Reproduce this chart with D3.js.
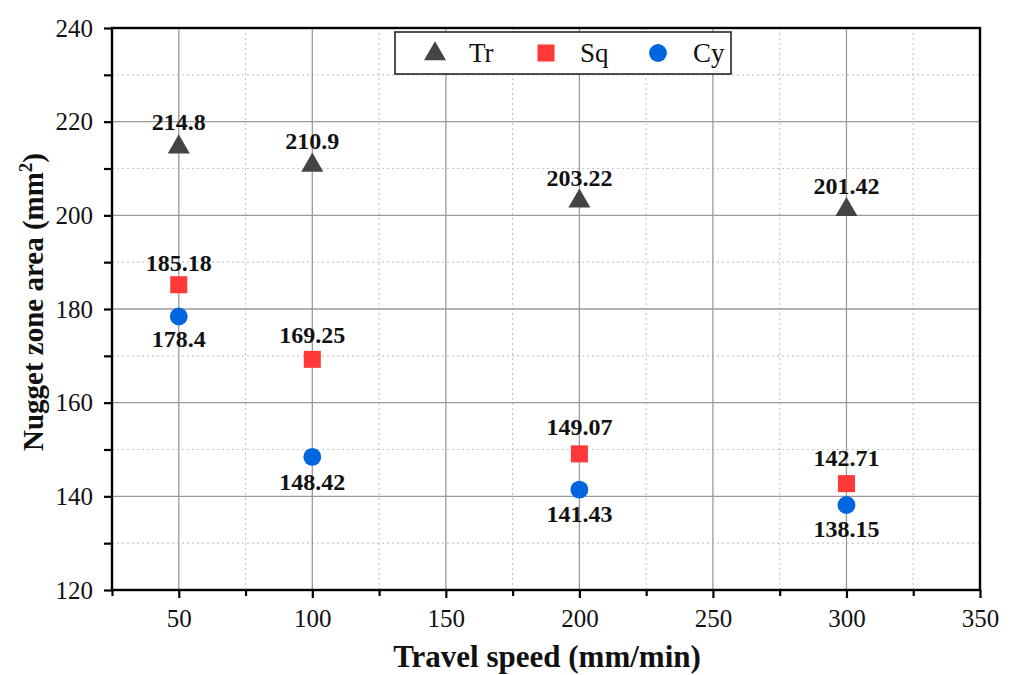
<!DOCTYPE html>
<html>
<head>
<meta charset="utf-8">
<script src="https://cdn.jsdelivr.net/npm/d3@7"></script>
<style>
  html, body { margin: 0; padding: 0; background: #fff; }
  svg { display: block; }
  text { font-family: "Liberation Serif", "DejaVu Serif", serif; fill: #111; }
</style>
</head>
<body>
<svg id="chart" width="1015" height="675"></svg>
<script>
// Travel speed (mm/min)
const speeds = [50, 100, 200, 300];
// Nugget zone area (mm²) per pin profile
const trValues = [214.8, 210.9, 203.22, 201.42];
const sqValues = [185.18, 169.25, 149.07, 142.71];
const cyValues = [178.4, 148.42, 141.43, 138.15];

const seriesNames = ["Tr", "Sq", "Cy"];
const xTicks = [50, 100, 150, 200, 250, 300, 350];
const xMinorTicks = [25, 75, 125, 175, 225, 275, 325];
const yTicks = [120, 140, 160, 180, 200, 220, 240];
const yMinorTicks = [130, 150, 170, 190, 210, 230];

// label placement (px above / below each marker)
const trLabelDy = [-16, -15, -14, -15];
const sqLabelDy = [-14, -16, -19, -18];
const cyLabelDy = [31, 33, 32, 32];

const svg = d3.select("#chart");
const plotL = 112, plotR = 980, plotT = 28, plotB = 590;

const x = d3.scaleLinear().domain([25, 350]).range([plotL, plotR]);
const y = d3.scaleLinear().domain([120, 240]).range([plotB, plotT]);

// grid: minor dotted, major solid
const grid = svg.append("g");
grid.selectAll(".gxm").data(xMinorTicks.filter(d => d > 25)).join("line")
  .attr("x1", d => x(d)).attr("x2", d => x(d)).attr("y1", plotT).attr("y2", plotB)
  .attr("stroke", "#c8c8c8").attr("stroke-width", 1.2).attr("stroke-dasharray", "2,3");
grid.selectAll(".gym").data(yMinorTicks).join("line")
  .attr("y1", d => y(d)).attr("y2", d => y(d)).attr("x1", plotL).attr("x2", plotR)
  .attr("stroke", "#c8c8c8").attr("stroke-width", 1.2).attr("stroke-dasharray", "2,3");
grid.selectAll(".gx").data(xTicks.filter(d => d < 350)).join("line")
  .attr("x1", d => x(d)).attr("x2", d => x(d)).attr("y1", plotT).attr("y2", plotB)
  .attr("stroke", "#9a9a9a").attr("stroke-width", 1.3);
grid.selectAll(".gy").data(yTicks.filter(d => d > 120 && d < 240)).join("line")
  .attr("y1", d => y(d)).attr("y2", d => y(d)).attr("x1", plotL).attr("x2", plotR)
  .attr("stroke", "#9a9a9a").attr("stroke-width", 1.3);

// axes
const xAxis = svg.append("g").attr("transform", `translate(0,${plotB})`)
  .call(d3.axisBottom(x).tickValues(xTicks).tickSize(8).tickPadding(11).tickSizeOuter(0));
const xMinor = svg.append("g").attr("transform", `translate(0,${plotB})`)
  .call(d3.axisBottom(x).tickValues(xMinorTicks).tickSize(6).tickFormat("").tickSizeOuter(0));
const yAxis = svg.append("g").attr("transform", `translate(${plotL},0)`)
  .call(d3.axisLeft(y).tickValues(yTicks).tickSize(8).tickPadding(11).tickSizeOuter(0));
const yMinor = svg.append("g").attr("transform", `translate(${plotL},0)`)
  .call(d3.axisLeft(y).tickValues(yMinorTicks).tickSize(8).tickFormat("").tickSizeOuter(0));

[xAxis, xMinor, yAxis, yMinor].forEach(g => {
  g.select(".domain").remove();
  g.selectAll(".tick line").attr("stroke", "#000").attr("stroke-width", 2.2);
  g.selectAll(".tick text").attr("font-size", 25).attr("fill", "#1a1a1a");
});

// frame
svg.append("rect").attr("x", plotL).attr("y", plotT)
  .attr("width", plotR - plotL).attr("height", plotB - plotT)
  .attr("fill", "none").attr("stroke", "#000").attr("stroke-width", 2.4);

// markers
const tri = d3.symbol().type(d3.symbolTriangle).size(210);
const sqr = d3.symbol().type(d3.symbolSquare).size(290);
const cir = d3.symbol().type(d3.symbolCircle).size(250);

const trColor = "#444444", sqColor = "#ff3838", cyColor = "#0066e0";

const pts = svg.append("g");
pts.selectAll(".tr").data(speeds).join("path")
  .attr("d", tri).attr("fill", trColor)
  .attr("transform", (d, i) => `translate(${x(d)},${y(trValues[i]) + 1})`);
pts.selectAll(".sq").data(speeds).join("path")
  .attr("d", sqr).attr("fill", sqColor)
  .attr("transform", (d, i) => `translate(${x(d)},${y(sqValues[i])})`);
pts.selectAll(".cy").data(speeds).join("path")
  .attr("d", cir).attr("fill", cyColor)
  .attr("transform", (d, i) => `translate(${x(d)},${y(cyValues[i])})`);

// value labels
const labels = svg.append("g").attr("font-size", 24).attr("font-weight", "bold")
  .attr("text-anchor", "middle");
labels.selectAll(".ltr").data(speeds).join("text")
  .attr("x", d => x(d)).attr("y", (d, i) => y(trValues[i]) + trLabelDy[i])
  .text((d, i) => trValues[i]);
labels.selectAll(".lsq").data(speeds).join("text")
  .attr("x", d => x(d)).attr("y", (d, i) => y(sqValues[i]) + sqLabelDy[i])
  .text((d, i) => sqValues[i]);
labels.selectAll(".lcy").data(speeds).join("text")
  .attr("x", d => x(d)).attr("y", (d, i) => y(cyValues[i]) + cyLabelDy[i])
  .text((d, i) => cyValues[i]);

// axis titles
svg.append("text").attr("x", 547).attr("y", 667).attr("text-anchor", "middle")
  .attr("font-size", 31).attr("font-weight", "bold").text("Travel speed (mm/min)");
const yt = svg.append("text").attr("transform", "translate(43,302) rotate(-90)")
  .attr("text-anchor", "middle").attr("font-size", 29).attr("font-weight", "bold");
yt.append("tspan").text("Nugget zone area (mm");
yt.append("tspan").attr("dy", -11).attr("font-size", 19).text("2");
yt.append("tspan").attr("dy", 11).text(")");

// legend
const lg = svg.append("g");
lg.append("rect").attr("x", 395).attr("y", 32).attr("width", 336).attr("height", 42)
  .attr("fill", "#fff").attr("stroke", "#222").attr("stroke-width", 1.6);
const legendItems = [
  { name: seriesNames[0], sym: tri, color: trColor, mx: 435, tx: 469 },
  { name: seriesNames[1], sym: sqr, color: sqColor, mx: 546, tx: 580 },
  { name: seriesNames[2], sym: cir, color: cyColor, mx: 658, tx: 693 }
];
legendItems.forEach(it => {
  lg.append("path").attr("d", it.sym).attr("fill", it.color)
    .attr("transform", `translate(${it.mx},${it.name === "Tr" ? 54 : 53})`);
  lg.append("text").attr("x", it.tx).attr("y", 62).attr("font-size", 27).text(it.name);
});
</script>
</body>
</html>
